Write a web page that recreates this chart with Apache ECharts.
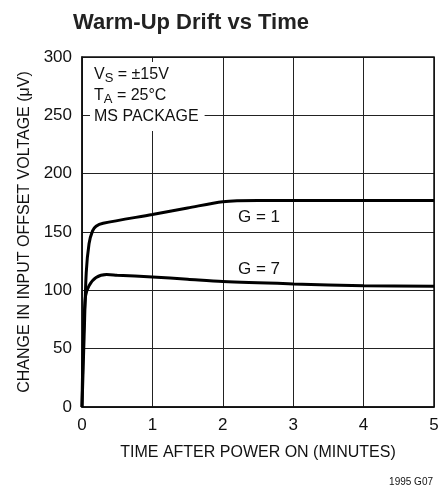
<!DOCTYPE html>
<html>
<head>
<meta charset="utf-8">
<script src="https://cdn.jsdelivr.net/npm/echarts@6/dist/echarts.min.js"></script>
<style>
  html, body { margin: 0; padding: 0; background: #fff; }
  #chart { width: 443px; height: 490px; }
</style>
</head>
<body>
<div id="chart"></div>
<script>
// time after power on (minutes) and drift (uV)
const g1Time = [0, 0.03, 0.06, 0.1, 0.15, 0.2, 0.3, 1, 1.5, 2, 2.5, 3, 4, 5]
const g1Drift = [0, 60, 115, 140, 151, 155, 157.5, 165, 170.5, 176, 177, 177, 177, 177]
const g7Time = [0, 0.02, 0.05, 0.1, 0.2, 0.35, 0.5, 1, 1.5, 2, 3, 4, 5]
const g7Drift = [0, 60, 95, 104, 111, 113.5, 113, 111.5, 109.5, 107.5, 105.5, 104, 103.5]
const xTicks = [0, 1, 2, 3, 4, 5]
const yTicks = [0, 50, 100, 150, 200, 250, 300]

const FONT = '"Liberation Sans Narrow", "Liberation Sans", sans-serif'

const chart = echarts.init(document.getElementById('chart'))

const toPairs = (xs, ys) => xs.map((x, i) => [x, ys[i]])

chart.setOption({
  animation: false,
  backgroundColor: '#fff',
  title: {
    text: 'Warm-Up Drift vs Time',
    left: 186,
    textAlign: 'center',
    top: 7,
    textStyle: { fontFamily: FONT, fontSize: 22, fontWeight: 'bold', color: '#222' },
  },
  grid: { left: 82, right: 9, top: 57, height: 350 },
  xAxis: {
    type: 'value',
    min: xTicks[0],
    max: xTicks[xTicks.length - 1],
    interval: 1,
    name: 'TIME AFTER POWER ON (MINUTES)',
    nameLocation: 'middle',
    nameGap: 38,
    nameTextStyle: { fontFamily: FONT, fontSize: 16, color: '#111' },
    axisLine: { lineStyle: { color: '#111', width: 1.5 } },
    axisTick: { show: false },
    axisLabel: { fontFamily: FONT, fontSize: 17, color: '#111', margin: 10 },
    splitLine: { lineStyle: { color: '#222', width: 1 } },
  },
  yAxis: {
    type: 'value',
    min: yTicks[0],
    max: yTicks[yTicks.length - 1],
    interval: 50,
    name: 'CHANGE IN INPUT OFFSET VOLTAGE (μV)',
    nameLocation: 'middle',
    nameGap: 46,
    nameTextStyle: { fontFamily: FONT, fontSize: 16, color: '#111' },
    axisLine: { show: true, lineStyle: { color: '#111', width: 1.5 } },
    axisTick: { show: false },
    axisLabel: { fontFamily: FONT, fontSize: 17, color: '#111', margin: 10 },
    splitLine: { lineStyle: { color: '#222', width: 1 } },
  },
  graphic: [
    // right and top frame edges
    {
      type: 'rect',
      shape: { x: 82, y: 57, width: 352, height: 350 },
      style: { fill: null, stroke: '#111', lineWidth: 1.5 },
      silent: true,
      z: 1,
    },
    {
      type: 'text',
      left: 90,
      top: 62,
      z: 10,
      style: {
        text: 'V{sub|S} = ±15V\nT{sub|A} = 25°C\nMS PACKAGE',
        fontFamily: FONT,
        fontSize: 16,
        lineHeight: 21,
        fill: '#111',
        backgroundColor: '#fff',
        padding: [2, 6, 4, 4],
        rich: {
          sub: { fontFamily: FONT, fontSize: 13, verticalAlign: 'bottom', padding: [8, 0, 0, 0], fill: '#111' },
        },
      },
    },
    {
      type: 'text',
      left: 238,
      top: 209,
      z: 10,
      style: { text: 'G = 1', fontFamily: FONT, fontSize: 17, fill: '#111' },
    },
    {
      type: 'text',
      left: 238,
      top: 261,
      z: 10,
      style: { text: 'G = 7', fontFamily: FONT, fontSize: 17, fill: '#111' },
    },
    {
      type: 'text',
      right: 10,
      top: 477,
      style: { text: '1995 G07', fontFamily: FONT, fontSize: 10, fill: '#111' },
    },
  ],
  series: [
    {
      name: 'G = 1',
      type: 'line',
      data: toPairs(g1Time, g1Drift),
      smooth: 0.3,
      showSymbol: false,
      lineStyle: { color: '#000', width: 3 },
      z: 5,
    },
    {
      name: 'G = 7',
      type: 'line',
      data: toPairs(g7Time, g7Drift),
      smooth: 0.3,
      showSymbol: false,
      lineStyle: { color: '#000', width: 3 },
      z: 5,
    },
  ],
})
</script>
</body>
</html>
